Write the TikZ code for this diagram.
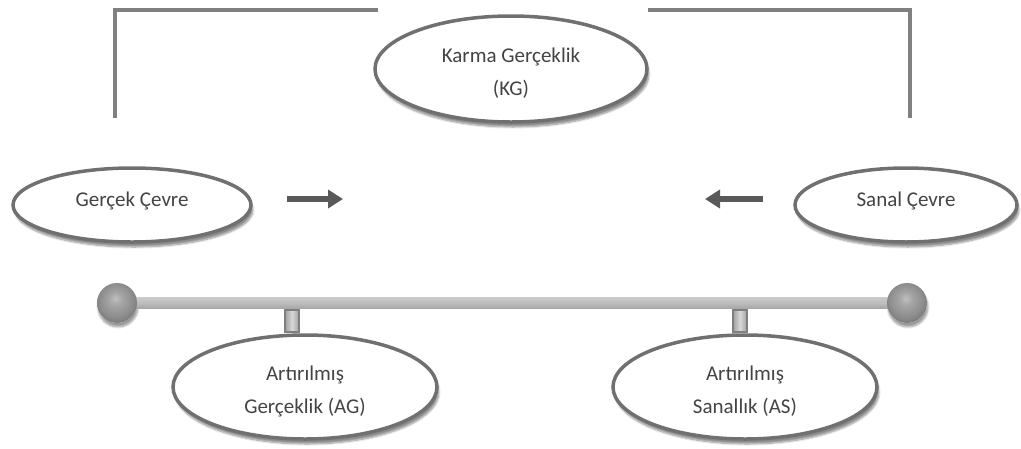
\documentclass[tikz,border=0pt]{standalone}
\usepackage{fontspec}
\setmainfont{Carlito}
\usetikzlibrary{shapes.geometric,arrows.meta,shadows.blur}
\definecolor{edgegrey}{HTML}{707070}
\definecolor{bracketgrey}{HTML}{808080}
\definecolor{arrowgrey}{HTML}{595959}
\definecolor{textgrey}{HTML}{444444}
\pgfdeclareradialshading{knobshade}{\pgfpoint{-2bp}{6bp}}{%
  color(0bp)=(gray!50); color(9bp)=(gray!72); color(20bp)=(gray!88);
  color(26bp)=(gray!100); color(50bp)=(gray!100)}
\newcommand{\upstrut}{\rule[-12.5pt]{0pt}{0pt}}
\newcommand{\downstrut}{\rule{0pt}{23pt}}
\tikzset{
  oval/.style={ellipse, draw=edgegrey, line width=3.5pt, fill=white, inner sep=0pt,
    align=center, text=textgrey, font=\fontsize{21}{33}\selectfont,
    blur shadow={shadow xshift=2pt, shadow yshift=-5pt, shadow blur steps=8, shadow opacity=45}},
  bracket/.style={draw=bracketgrey, line width=4.5pt},
  flowarrow/.style={draw=arrowgrey, line width=6pt, -{Triangle[width=18pt,length=15pt]}},
  knob/.style={circle, minimum size=40pt, inner sep=0pt, shading=knobshade, draw=none},
  knobshadow/.style={circle, minimum size=40pt, inner sep=0pt, fill=white, draw=none,
    blur shadow={shadow xshift=1pt, shadow yshift=-4pt, shadow blur steps=8, shadow opacity=40}},
  stem/.style={rectangle, minimum width=14pt, minimum height=22pt, inner sep=0pt,
    draw=gray!100, line width=1.2pt, left color=gray!75, right color=gray!75, middle color=gray!30},
}
\begin{document}
\begin{tikzpicture}[x=1pt,y=-1pt]
\useasboundingbox (0,0) rectangle (1021,448);
% bracket
\coordinate (bl1) at (115,118);
\coordinate (bl2) at (115,10);
\coordinate (bl3) at (378,10);
\coordinate (br1) at (648,10);
\coordinate (br2) at (910,10);
\coordinate (br3) at (910,118);
\draw[bracket] (bl1) -- (bl2) -- (bl3);
\draw[bracket] (br1) -- (br2) -- (br3);
% ellipses
\node[oval, minimum width=272pt, minimum height=106pt] (kg) at (511,69) {\downstrut Karma Gerçeklik\\(KG)};
\node[oval, minimum width=238pt, minimum height=74pt] (gc) at (132,205) {Gerçek Çevre\upstrut};
\node[oval, minimum width=222pt, minimum height=74pt] (sc) at (906,205) {Sanal Çevre\upstrut};
% arrows
\coordinate (a1s) at (287,199);
\coordinate (a1e) at (343,199);
\coordinate (a2s) at (763,199);
\coordinate (a2e) at (705,199);
\draw[flowarrow] (a1s) -- (a1e);
\draw[flowarrow] (a2s) -- (a2e);
% bar
\node[knobshadow] (kl) at (117,303) {};
\node[knobshadow] (kr) at (907,303) {};
\shade[top color=gray!42, bottom color=gray!70, middle color=gray!52] ([yshift=-5.5pt]kl.center) rectangle ([yshift=5.5pt]kr.center);
\node[knob] at (kl) {};
\node[knob] at (kr) {};
% stems
\node[stem] (s1) at (292,321) {};
\node[stem] (s2) at (740,321) {};
% bottom ellipses
\node[oval, minimum width=264pt, minimum height=104pt] (ag) at (305,387) {\downstrut Artırılmış\\Gerçeklik (AG)};
\node[oval, minimum width=264pt, minimum height=104pt] (as) at (745,387) {\downstrut Artırılmış\\Sanallık (AS)};
\end{tikzpicture}
\end{document}
